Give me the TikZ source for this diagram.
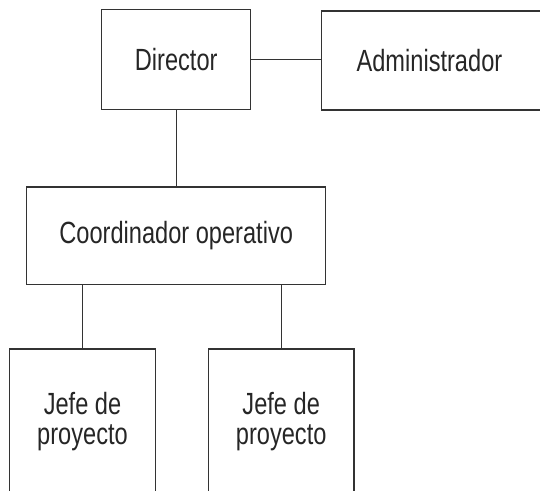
\documentclass[tikz,border=0pt]{standalone}
\usepackage{fontspec}
\setmainfont{Liberation Sans}[FakeStretch=0.77]
\usepackage{tikz}

\begin{document}
\begin{tikzpicture}[x=0.75pt,y=-0.75pt,
    every node/.style={font=\fontsize{23}{22.5}\selectfont, text=black!85},
    box/.style={draw=black!80, line width=0.9pt, inner sep=0pt, align=center},
    line width=0.9pt, draw=black!80]
      \useasboundingbox (0,0) rectangle (540,491);
      \clip (0,0) rectangle (540,491);
      \draw
      (176.2,59.7) node[box, minimum width=111.75pt, minimum height=75pt] (D) {Director}
      (321,60.5) node[box, anchor=west, minimum height=74.25pt, inner xsep=26.25pt, text width=127.5pt, align=left] (A) {Administrador}
      (176.2,235.8) node[box, minimum width=224.25pt, minimum height=73.3pt] (C) {Coordinador operativo}
      (82.5,421.5) node[box, minimum width=109.2pt, minimum height=108.75pt] (J1) {Jefe de\\proyecto}
      (281.2,421.5) node[box, minimum width=109.2pt, minimum height=108.75pt] (J2) {Jefe de\\proyecto}
      (D.east) -- (D.east -| A.west)
      (D.south) -- (C.north)
      (C.south -| J1.north) -- (J1.north)
      (C.south -| J2.north) -- (J2.north);
    \end{tikzpicture}
\end{document}
